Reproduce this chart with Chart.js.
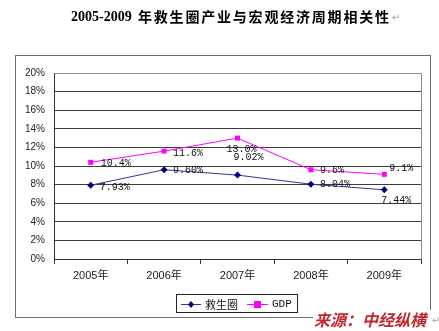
<!DOCTYPE html>
<html>
<head>
<meta charset="utf-8">
<script src="https://cdn.jsdelivr.net/npm/chart.js@4/dist/chart.umd.min.js"></script>
<style>
  html, body { margin: 0; padding: 0; background: #fff; }
  #c { display: block; }
</style>
</head>
<body>
<canvas id="c" width="439" height="331"></canvas>
<script>
// Years on the category axis
const years = ['2005年', '2006年', '2007年', '2008年', '2009年'];
// Growth rates, in percent
const lifebuoyGrowth = [7.93, 9.60, 9.02, 8.04, 7.44];
const gdpGrowth = [10.4, 11.6, 13.0, 9.6, 9.1];
// Value label texts
const lifebuoyLabels = ['7.93%', '9.60%', '9.02%', '8.04%', '7.44%'];
const gdpLabels = ['10.4%', '11.6%', '13.0%', '9.6%', '9.1%'];
// Y axis range (percent)
const yMin = 0, yMax = 20, yStep = 2;

const titleText = '年救生圈产业与宏观经济周期相关性';
const sourceText = '来源：中经纵横';

// where each value label sits relative to its point: [dx, dy]
const lifebuoyLabelOffsets = [[9, 2], [9, 1], [-4, -18], [9, 0], [-3, 11]];
const gdpLabelOffsets = [[10, 1], [9, 2], [-11, 11], [9, 1], [5, -6]];

const NAVY = '#000080';
const NAVY_LINE = '#33339a';
const MAGENTA = '#ff00ff';

const decorations = {
  id: 'decorations',
  beforeDraw(chart) {
    const ctx = chart.ctx;
    ctx.save();
    ctx.fillStyle = '#fff';
    ctx.fillRect(0, 0, chart.width, chart.height);
    // outer chart frame
    ctx.strokeStyle = '#6e6e6e';
    ctx.lineWidth = 1;
    ctx.strokeRect(15.5, 55.5, 415, 262);
    ctx.restore();
  },
  afterDraw(chart) {
    const ctx = chart.ctx;
    const a = chart.chartArea;
    ctx.save();
    // top and right edge of the plot area
    ctx.strokeStyle = '#8c8c8c';
    ctx.lineWidth = 1;
    ctx.beginPath();
    ctx.moveTo(Math.round(a.left) + 0.5, Math.round(a.top) + 0.5);
    ctx.lineTo(Math.round(a.right) + 0.5, Math.round(a.top) + 0.5);
    ctx.lineTo(Math.round(a.right) + 0.5, Math.round(a.bottom) + 0.5);
    ctx.stroke();

    // value labels
    ctx.font = '10px "Liberation Mono", "DejaVu Sans Mono", monospace';
    ctx.fillStyle = '#111';
    ctx.textAlign = 'left';
    ctx.textBaseline = 'middle';
    const drawLabels = (dsIndex, texts, offsets) => {
      const meta = chart.getDatasetMeta(dsIndex);
      meta.data.forEach((pt, i) => {
        ctx.fillText(texts[i], pt.x + offsets[i][0], pt.y + offsets[i][1]);
      });
    };
    drawLabels(0, lifebuoyLabels, lifebuoyLabelOffsets);
    drawLabels(1, gdpLabels, gdpLabelOffsets);

    // title
    ctx.fillStyle = '#000';
    ctx.textBaseline = 'middle';
    ctx.font = 'bold 14px "Liberation Serif", serif';
    ctx.fillText('2005-2009', 71, 17);
    ctx.font = 'bold 14px "Noto Sans CJK SC", sans-serif';
    let x = 138;
    for (const ch of titleText) {
      ctx.fillText(ch, x, 17);
      x += 15.8;
    }
    ctx.fillStyle = '#a0a0a0';
    ctx.font = '10px "DejaVu Sans", sans-serif';
    ctx.fillText('↵', x + 1, 18);

    // legend
    const lx = 176.5, ly = 294.5, lw = 121, lh = 18;
    ctx.fillStyle = '#fff';
    ctx.fillRect(lx, ly, lw, lh);
    ctx.strokeStyle = '#222';
    ctx.strokeRect(lx, ly, lw, lh);
    const cy = 304;
    ctx.lineWidth = 1;
    ctx.strokeStyle = NAVY_LINE;
    ctx.beginPath(); ctx.moveTo(181, cy + 0.5); ctx.lineTo(201, cy + 0.5); ctx.stroke();
    ctx.fillStyle = NAVY;
    ctx.beginPath();
    ctx.moveTo(191, cy - 3); ctx.lineTo(194, cy + 0.5); ctx.lineTo(191, cy + 4); ctx.lineTo(188, cy + 0.5);
    ctx.closePath(); ctx.fill();
    ctx.strokeStyle = MAGENTA;
    ctx.beginPath(); ctx.moveTo(247, cy + 0.5); ctx.lineTo(268, cy + 0.5); ctx.stroke();
    ctx.fillStyle = MAGENTA;
    ctx.fillRect(254, cy - 3, 7, 7);
    ctx.fillStyle = '#111';
    ctx.font = '11px "Noto Sans CJK SC", sans-serif';
    ctx.fillText('救生圈', 205, cy + 0.5);
    ctx.font = '11px "Liberation Mono", monospace';
    ctx.fillText('GDP', 272, cy + 0.5);

    // source note
    ctx.fillStyle = '#fff';
    ctx.fillRect(313, 310, 118, 20);
    ctx.fillStyle = '#c0262b';
    ctx.font = 'italic bold 16px "Noto Sans CJK SC", sans-serif';
    ctx.fillText(sourceText, 314, 320);
    ctx.fillStyle = '#a0a0a0';
    ctx.font = '9px "DejaVu Sans", sans-serif';
    ctx.fillText('↵', 432, 321);
    ctx.restore();
  }
};

new Chart(document.getElementById('c'), {
  type: 'line',
  data: {
    labels: years,
    datasets: [
      {
        label: '救生圈',
        data: lifebuoyGrowth,
        borderColor: NAVY_LINE,
        backgroundColor: NAVY,
        borderWidth: 1,
        pointStyle: 'rectRot',
        pointRadius: 3.5,
        pointBorderWidth: 0,
        pointBackgroundColor: NAVY,
        tension: 0
      },
      {
        label: 'GDP',
        data: gdpGrowth,
        borderColor: MAGENTA,
        backgroundColor: MAGENTA,
        borderWidth: 1,
        pointStyle: 'rect',
        pointRadius: 3.5,
        pointBorderWidth: 0,
        pointBackgroundColor: MAGENTA,
        tension: 0
      }
    ]
  },
  options: {
    responsive: false,
    animation: false,
    devicePixelRatio: 1,
    layout: { padding: { left: 0, right: 18, top: 73, bottom: 0 } },
    plugins: {
      legend: { display: false },
      title: { display: false },
      tooltip: { enabled: false }
    },
    scales: {
      x: {
        offset: true,
        afterFit(scale) { scale.height = 72; },
        grid: {
          offset: true,
          drawOnChartArea: false,
          drawTicks: true,
          tickLength: 5,
          color: '#333'
        },
        border: { display: true, color: '#333', width: 1 },
        ticks: {
          padding: 5,
          color: '#222',
          font: { family: '"Liberation Sans", "Noto Sans CJK SC", sans-serif', size: 11 }
        }
      },
      y: {
        min: yMin,
        max: yMax,
        afterFit(scale) { scale.width = 54; },
        grid: {
          drawTicks: false,
          color: '#3c3c3c',
          lineWidth: 1
        },
        border: { display: true, color: '#333', width: 1 },
        ticks: {
          stepSize: yStep,
          padding: 9,
          color: '#222',
          font: { family: '"Liberation Sans", sans-serif', size: 10 },
          callback: v => v + '%'
        }
      }
    }
  },
  plugins: [decorations]
});
</script>
</body>
</html>
